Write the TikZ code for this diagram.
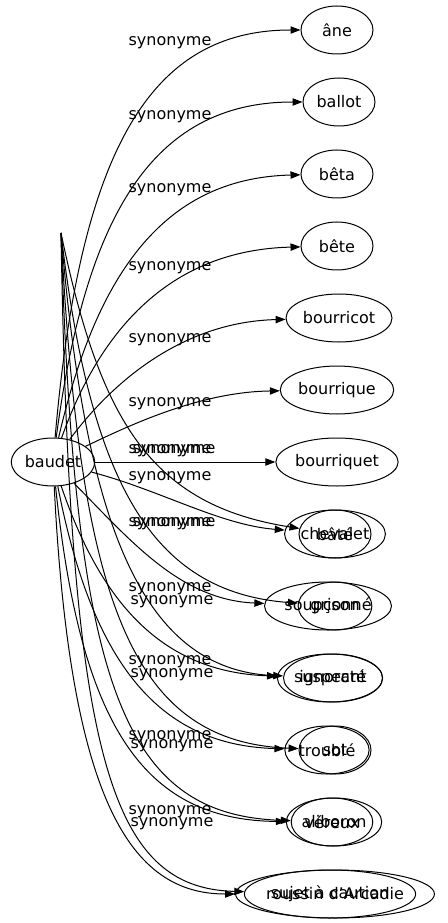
\documentclass[tikz,border=0pt]{standalone}
\usepackage{fontspec}
\setmainfont{DejaVu Sans}
\usetikzlibrary{shapes.geometric,arrows.meta}

\begin{document}
\begin{tikzpicture}[x=0.75pt,y=-0.75pt,
  word/.style={draw,ellipse,line width=0.75pt,inner xsep=1pt,inner ysep=0pt,minimum width=54pt,minimum height=36pt,font=\fontsize{12}{14}\selectfont},
  syn/.style={inner sep=0pt,font=\fontsize{12}{14}\selectfont},
  link/.style={black,line width=0.75pt,-{Triangle[length=7.5pt,width=5.5pt]}}]

\useasboundingbox (0,0) rectangle (447,923);

% the word and where its second set of edges comes from
\node[word] (baudet) at (53,462) {baudet};
\coordinate (hub) at (61,233);

% synonyms, one per rank
\node[word] (ane) at (337,30) {âne};
\node[word] (ballot) at (339,102) {ballot};
\node[word] (beta) at (337,174) {bêta};
\node[word] (bete) at (337,246) {bête};
\node[word] (bourricot) at (339,318) {bourricot};
\node[word] (bourrique) at (337,390) {bourrique};
\node[word] (bourriquet) at (337,462) {bourriquet};
\node[word] (chevalet) at (335,534) {chevalet};
\node[word] (bate) at (335,534) {bâté};
\node[word] (soupconne) at (328,606) {soupçonné};
\node[word] (grison) at (335,606) {grison};
\node[word] (suspecte) at (330,678) {suspecté};
\node[word] (ignorant) at (333,678) {ignorant};
\node[word] (trouble) at (327,750) {troublé};
\node[word] (sot) at (335,750) {sot};
\node[word] (aliboron) at (334,822) {aliboron};
\node[word] (vereux) at (332,822) {véreux};
\node[word] (roussin) at (335,894) {roussin d'Arcadie};
\node[word] (sujet) at (330,894) {sujet à caution};

% edge labels
\node[syn] (l1) at (170,43) {synonyme};
\node[syn] (l2) at (170,117) {synonyme};
\node[syn] (l3) at (170,190) {synonyme};
\node[syn] (l4) at (170,268) {synonyme};
\node[syn] (l5) at (170,340) {synonyme};
\node[syn] (l6) at (170,404) {synonyme};
\node[syn] (l7) at (170,451) {synonyme};
\node[syn] (l8) at (174,451) {synonyme};
\node[syn] (l9) at (170,478) {synonyme};
\node[syn] (l10) at (170,524) {synonyme};
\node[syn] (l11) at (174,524) {synonyme};
\node[syn] (l12) at (170,589) {synonyme};
\node[syn] (l13) at (172,602) {synonyme};
\node[syn] (l14) at (170,662) {synonyme};
\node[syn] (l15) at (172,675) {synonyme};
\node[syn] (l16) at (170,737) {synonyme};
\node[syn] (l17) at (172,746) {synonyme};
\node[syn] (l18) at (170,812) {synonyme};
\node[syn] (l19) at (172,824) {synonyme};

% edges
\draw[link] (baudet) .. controls (80,150) and (150,30) .. (ane);
\draw[link] (baudet) .. controls (85,220) and (150,102) .. (ballot);
\draw[link] (baudet) .. controls (95,280) and (160,178) .. (beta);
\draw[link] (baudet) .. controls (100,330) and (170,250) .. (bete);
\draw[link] (baudet) .. controls (110,385) and (180,322) .. (bourricot);
\draw[link] (baudet) .. controls (130,425) and (200,392) .. (bourrique);
\draw[link] (baudet) -- (bourriquet);
\draw[link] (baudet) .. controls (160,490) and (220,525) .. (chevalet);
\draw[link] (hub) .. controls (100,420) and (150,505) .. (bate);
\draw[link] (baudet) .. controls (130,540) and (180,600) .. (soupconne);
\draw[link] (hub) .. controls (90,480) and (150,592) .. (grison);
\draw[link] (baudet) .. controls (100,600) and (160,672) .. (suspecte);
\draw[link] (hub) .. controls (85,520) and (140,670) .. (ignorant);
\draw[link] (baudet) .. controls (90,650) and (150,745) .. (trouble);
\draw[link] (hub) .. controls (80,600) and (130,742) .. (sot);
\draw[link] (baudet) .. controls (80,720) and (140,820) .. (aliboron);
\draw[link] (hub) .. controls (75,680) and (120,815) .. (vereux);
\draw[link] (baudet) .. controls (70,800) and (130,894) .. (roussin);
\draw[link] (hub) .. controls (70,760) and (110,888) .. (sujet);

\end{tikzpicture}
\end{document}
